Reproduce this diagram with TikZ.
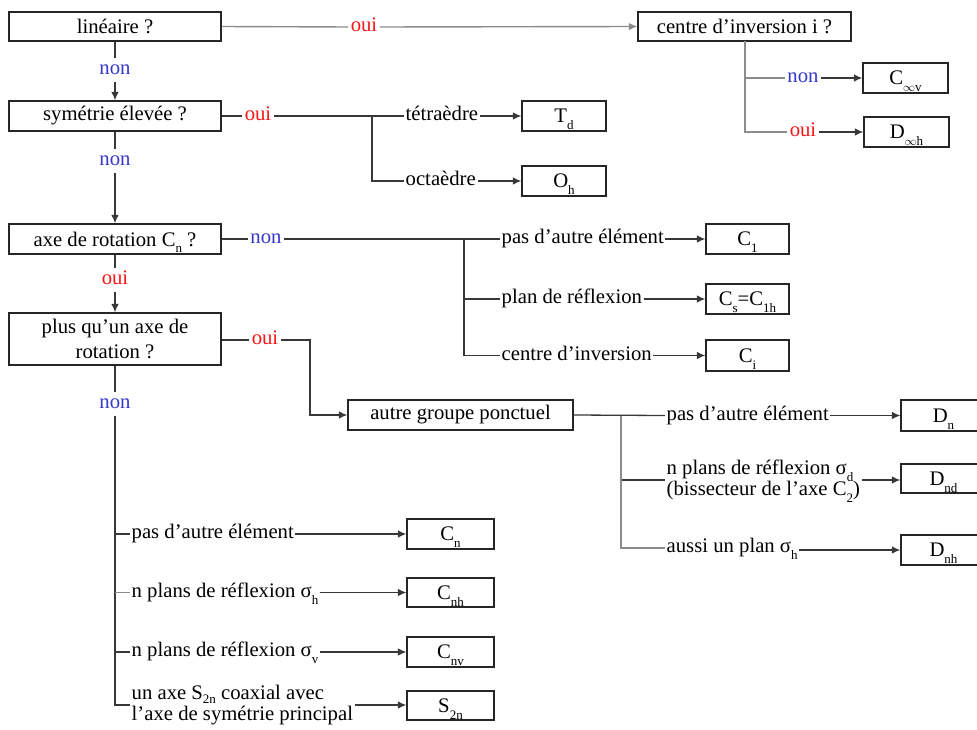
\documentclass[tikz,border=0pt]{standalone}
\usepackage{fontspec}
\setmainfont{Liberation Serif}
\usetikzlibrary{arrows.meta}
\definecolor{ouired}{RGB}{250,20,20}
\definecolor{nonblue}{RGB}{55,55,205}
\newcommand\lsub[1]{\smash{\raisebox{-0.33em}{\fontsize{13}{13}\selectfont #1}}}
\newcommand\lsubb[1]{\smash{\raisebox{-0.22em}{\fontsize{13}{13}\selectfont #1}}}
\begin{document}
\begin{tikzpicture}[x=1pt,y=-1pt,
  font=\fontsize{20.7}{21}\selectfont,
  box/.style={draw=black!85, line width=1.2pt, inner sep=0pt, align=center},
  conn/.style={draw=black!78, line width=1.3pt},
  light/.style={draw=black!45, line width=1.4pt},
  tip/.style={-{Latex[length=8.5pt,width=7.5pt]}},
  arr/.style={conn, tip},
  lbl/.style={inner sep=1.5pt, anchor=west, text height=14pt, text depth=4.5pt},
  lbl2/.style={inner sep=1.5pt, anchor=west, align=left},
  yes/.style={text=ouired, inner sep=2.5pt, text height=14pt, text depth=4.5pt},
  no/.style={text=nonblue, inner sep=2.5pt, text height=14pt, text depth=4.5pt}]
\useasboundingbox (0,0) rectangle (977,730);
\clip (0,0) rectangle (977,730);

% ---- boxes
\node[box, minimum width=212pt, minimum height=29pt] (lin) at (115,26.5) {linéaire ?};
\node[box, minimum width=212pt, minimum height=30pt] (sym) at (115,116) {symétrie élevée ?};
\node[box, minimum width=212pt, minimum height=30pt] (axe) at (115,239) {axe de rotation C\lsub{n} ?};
\node[box, minimum width=212pt, minimum height=52pt, font=\fontsize{20.7}{24.5}\selectfont] (plus) at (115,339) {plus qu’un axe de\\rotation ?};
\node[box, minimum width=213pt, minimum height=29pt] (cinv) at (744.5,26.5) {centre d’inversion i ?};
\node[box, minimum width=85pt, minimum height=30pt] (Cinfv) at (905.5,78) {C\lsub{$\infty$v}};
\node[box, minimum width=85pt, minimum height=30pt] (Dinfh) at (906.5,132) {D\lsub{$\infty$h}};
\node[box, minimum width=84pt, minimum height=30pt] (Td) at (564,116) {T\lsub{d}};
\node[box, minimum width=84pt, minimum height=30pt] (Oh) at (564,181) {O\lsub{h}};
\node[box, minimum width=83pt, minimum height=30pt] (C1) at (747.5,239) {C\lsub{1}};
\node[box, minimum width=83pt, minimum height=30pt] (Cs) at (747.5,299) {C\lsub{s}=C\lsub{1h}};
\node[box, minimum width=83pt, minimum height=31pt] (Ci) at (747.5,355.5) {C\lsub{i}};
\node[box, minimum width=225pt, minimum height=30pt] (agp) at (460.5,415) {autre groupe ponctuel};
\node[box, minimum width=85pt, minimum height=31pt] (Dn) at (943.5,415.5) {D\lsub{n}};
\node[box, minimum width=85pt, minimum height=29pt] (Dnd) at (943.5,478.5) {D\lsub{nd}};
\node[box, minimum width=85pt, minimum height=30pt] (Dnh) at (943.5,550) {D\lsub{nh}};
\node[box, minimum width=87pt, minimum height=30pt] (Cn) at (450.5,534) {C\lsub{n}};
\node[box, minimum width=87pt, minimum height=29pt] (Cnh) at (450.5,592.5) {C\lsub{nh}};
\node[box, minimum width=87pt, minimum height=30pt] (Cnv) at (450.5,652) {C\lsub{nv}};
\node[box, minimum width=87pt, minimum height=29pt] (S2n) at (450.5,705.5) {S\lsub{2n}};

% ---- yes / no labels
\node[yes] (oui1) at (364,27) {oui};
\node[no]  (non1) at (115,70) {non};
\node[yes] (oui2) at (258,116) {oui};
\node[no]  (non2) at (115,161) {non};
\node[no]  (non3) at (266,239) {non};
\node[yes] (oui3) at (115,280) {oui};
\node[yes] (oui4) at (265,340) {oui};
\node[no]  (non5) at (115,404) {non};
\node[no]  (non6) at (803,78) {non};
\node[yes] (oui6) at (803,132) {oui};

% ---- branch labels
\node[lbl] (tet) at (404,116) {tétraèdre};
\node[lbl] (oct) at (404,181) {octaèdre};
\node[lbl] (p1) at (500,239) {pas d’autre élément};
\node[lbl] (p2) at (500,299) {plan de réflexion};
\node[lbl] (p3) at (500,355.5) {centre d’inversion};
\node[lbl] (q1) at (665,415.5) {pas d’autre élément};
\node[lbl2] (q2) at (665,480) {n plans de réflexion σ\lsub{d}\\(bissecteur de l’axe C\lsub{2})};
\node[lbl] (q3) at (665,548) {aussi un plan σ\lsub{h}};
\node[lbl] (r1) at (130,534) {pas d’autre élément};
\node[lbl] (r2) at (130,592.5) {n plans de réflexion σ\lsub{h}};
\node[lbl] (r3) at (130,652) {n plans de réflexion σ\lsub{v}};
\node[lbl2, font=\fontsize{20.7}{21.5}\selectfont] (r4) at (130,705) {un axe S\lsubb{2n} coaxial avec\\l’axe de symétrie principal};

% ---- junctions
\coordinate (j1) at (372,116);
\coordinate (j2) at (464,239);
\coordinate (j3) at (310,340);
\coordinate (j4) at (621,415.5);
\coordinate (j5) at (745,41);

% ---- linear branch
\draw[light] (lin.east) -- (oui1.west);
\draw[light, tip] (oui1.east) -- (cinv.west);
\draw[conn] (lin.south) -- (non1.north);
\draw[arr] (non1.south) -- (sym.north);
\draw[light] (j5) |- (non6.west);
\draw[light] (j5) |- (oui6.west);
\draw[arr] (non6.east) -- (non6.east -| Cinfv.west);
\draw[arr] (oui6.east) -- (Dinfh.west);

% ---- high symmetry
\draw[conn] (sym.east) -- (oui2.west);
\draw[conn] (oui2.east) -- (tet.west);
\draw[conn] (j1) |- (oct.west);
\draw[arr] (tet.east) -- (Td.west);
\draw[arr] (oct.east) -- (Oh.west);
\draw[conn] (sym.south) -- (non2.north);
\draw[arr] (non2.south) -- (axe.north);

% ---- rotation axis: no
\draw[conn] (axe.east) -- (non3.west);
\draw[conn] (non3.east) -- (p1.west);
\draw[conn] (j2) |- (p2.west);
\draw[conn] (j2) |- (p3.west);
\draw[arr] (p1.east) -- (C1.west);
\draw[arr] (p2.east) -- (Cs.west);
\draw[arr] (p3.east) -- (Ci.west);
\draw[conn] (axe.south) -- (oui3.north);
\draw[arr] (oui3.south) -- (plus.north);

% ---- more than one axis: yes
\draw[conn] (plus.east |- oui4.west) -- (oui4.west);
\draw[arr] (oui4.east) -- (j3) |- (agp.west);
\draw[conn] (agp.east) -- (q1.west);
\draw[conn] (j4) |- (q2.west);
\draw[light] (j4) |- (q3.west);
\draw[arr] (q1.east) -- (Dn.west);
\draw[arr] (q2.east) -- (q2.east -| Dnd.west);
\draw[arr] (q3.east |- Dnh.west) -- (Dnh.west);

% ---- more than one axis: no
\draw[conn] (plus.south) -- (non5.north);
\draw[conn] (non5.south) |- (r4.west);
\draw[conn] (non5.south |- r1.west) -- (r1.west);
\draw[light] (non5.south |- r2.west) -- (r2.west);
\draw[conn] (non5.south |- r3.west) -- (r3.west);
\draw[arr] (r1.east) -- (Cn.west);
\draw[arr] (r2.east) -- (Cnh.west);
\draw[arr] (r3.east) -- (Cnv.west);
\draw[arr] (r4.east) -- (r4.east -| S2n.west);
\end{tikzpicture}
\end{document}
